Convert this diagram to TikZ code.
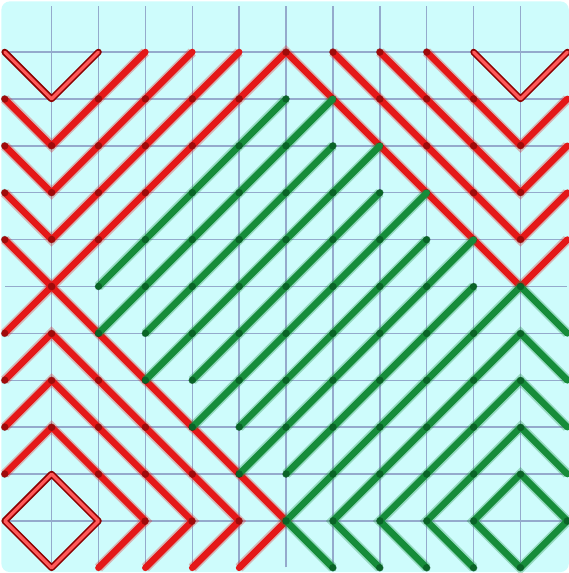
\documentclass[tikz,border=0pt]{standalone}
\usepackage{xcolor}
\usetikzlibrary{decorations.markings}

\definecolor{bgcyan}{RGB}{206,252,252}
\definecolor{gridblue}{RGB}{148,170,204}
\definecolor{lred}{RGB}{228,24,24}
\definecolor{dred}{RGB}{105,0,0}
\definecolor{lgreen}{RGB}{22,140,58}
\definecolor{dgreen}{RGB}{0,68,24}

\begin{document}
\begin{tikzpicture}[scale=1]
        % 스타일 정의
        \tikzset{gridline/.style={gridblue, line width=0.9pt}}
        \tikzset{redray/.style={draw=lred, line width=4pt, line cap=round, line join=round,
            preaction={draw=lred, line width=6pt, opacity=0.3},
            decoration={markings, mark=between positions 0 and 1 step 1.4142cm with {\fill[dred, opacity=0.55] (0,0) circle (2.3pt);}},
            postaction={decorate}}}
        \tikzset{greenray/.style={draw=lgreen, line width=4pt, line cap=round, line join=round,
            preaction={draw=lgreen, line width=6pt, opacity=0.3},
            decoration={markings, mark=between positions 0 and 1 step 1.4142cm with {\fill[dgreen, opacity=0.55] (0,0) circle (2.3pt);}},
            postaction={decorate}}}
        \tikzset{mirrorray/.style={draw=red!55!black, line width=1pt, double=red!65!white, double distance=2pt, line cap=round, line join=round}}

        % 1. 바탕색 칠하기 및 격자
        \useasboundingbox (-0.1,-0.11) rectangle (12.03,12.11);
        \fill[bgcyan, rounded corners=5pt] (-0.07,-0.09) rectangle (12.03,12.08);
        \draw[gridline] (0.01,0.01) grid (11.99,11.99);

        % 2. 빨간 선 (왼쪽 위, 오른쪽 위)
        \draw[redray] (0,10) -- (1,9) -- (3,11);
        \draw[redray] (0,9) -- (1,8) -- (4,11);
        \draw[redray] (0,8) -- (1,7) -- (5,11);
        \draw[redray] (0,7) -- (6,1) -- (5,0);
        \draw[redray] (0,5) -- (6,11) -- (11,6) -- (12,7);
        \draw[redray] (7,11) -- (11,7) -- (12,8);
        \draw[redray] (8,11) -- (11,8) -- (12,9);
        \draw[redray] (9,11) -- (11,9) -- (12,10);

        % 빨간 선 (왼쪽 아래)
        \draw[redray] (0,4) -- (1,5) -- (5,1) -- (4,0);
        \draw[redray] (0,3) -- (1,4) -- (4,1) -- (3,0);
        \draw[redray] (0,2) -- (1,3) -- (3,1) -- (2,0);

        % 3. 초록 선 (가운데 사선)
        \draw[greenray] (2,6) -- (6,10);
        \draw[greenray] (2,5) -- (7,10);
        \draw[greenray] (3,5) -- (7,9);
        \draw[greenray] (3,4) -- (8,9);
        \draw[greenray] (4,4) -- (8,8);
        \draw[greenray] (4,3) -- (9,8);
        \draw[greenray] (5,3) -- (9,7);
        \draw[greenray] (5,2) -- (10,7);
        \draw[greenray] (6,2) -- (10,6);

        % 초록 선 (오른쪽 아래)
        \draw[greenray] (7,0) -- (6,1) -- (11,6) -- (12,5);
        \draw[greenray] (8,0) -- (7,1) -- (11,5) -- (12,4);
        \draw[greenray] (9,0) -- (8,1) -- (11,4) -- (12,3);
        \draw[greenray] (10,0) -- (9,1) -- (11,3) -- (12,2);
        \draw[greenray] (10,1) -- (11,2) -- (12,1) -- (11,0) -- cycle;

        % 4. 거울 모양 (이중선)
        \draw[mirrorray] (0,11) -- (1,10) -- (2,11);
        \draw[mirrorray] (10,11) -- (11,10) -- (12,11);
        \draw[mirrorray] (0,1) -- (1,2) -- (2,1) -- (1,0) -- cycle;
    \end{tikzpicture}
\end{document}
